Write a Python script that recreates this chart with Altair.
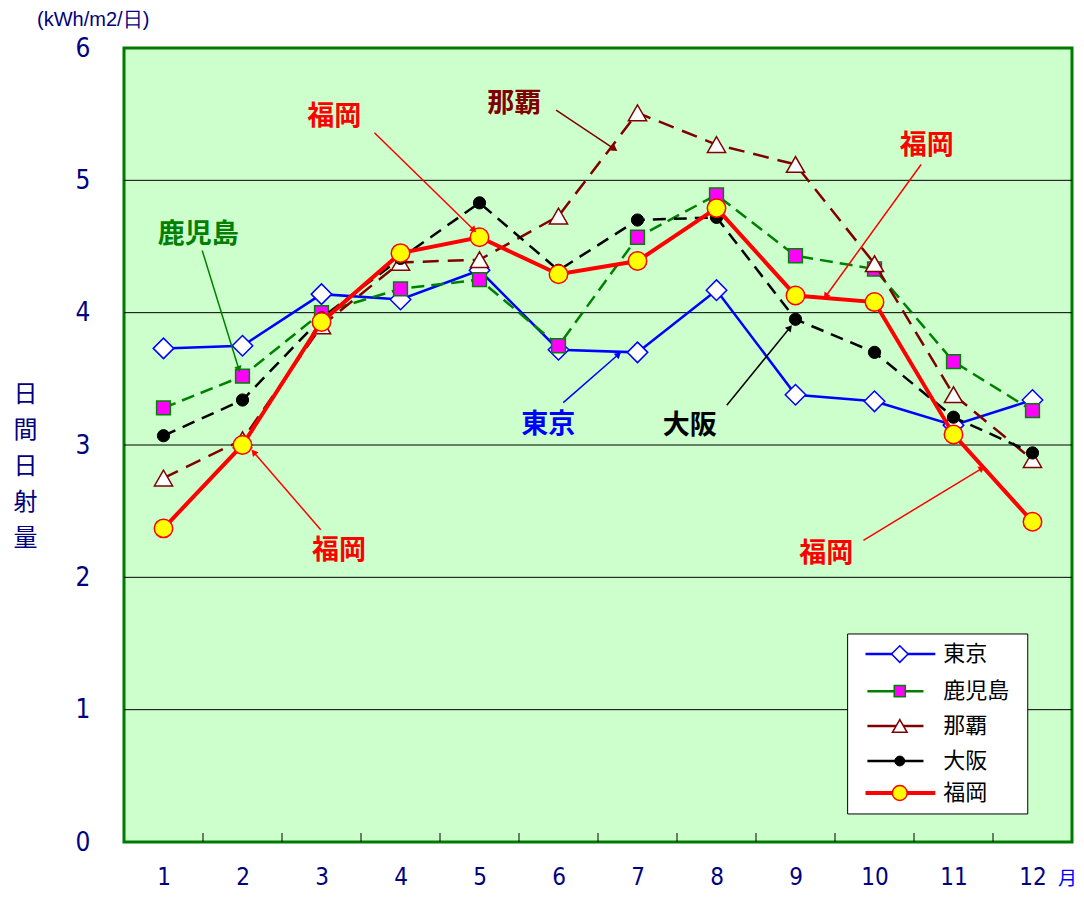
import math
import altair as alt
import pandas as pd

# ---------------- data ----------------
months = list(range(1, 13))
series_names = ["東京", "鹿児島", "那覇", "大阪", "福岡"]
tokyo = [3.73, 3.75, 4.14, 4.10, 4.32, 3.72, 3.70, 4.17, 3.38, 3.33, 3.15, 3.34]
kagoshima = [3.28, 3.52, 4.00, 4.18, 4.25, 3.75, 4.57, 4.89, 4.43, 4.33, 3.63, 3.26]
naha = [2.75, 3.04, 3.90, 4.38, 4.40, 4.73, 5.51, 5.27, 5.12, 4.37, 3.38, 2.89]
osaka = [3.07, 3.34, 3.96, 4.41, 4.83, 4.32, 4.70, 4.72, 3.95, 3.70, 3.21, 2.94]
fukuoka = [2.37, 3.00, 3.93, 4.45, 4.57, 4.29, 4.39, 4.79, 4.13, 4.08, 3.08, 2.42]
series_values = [tokyo, kagoshima, naha, osaka, fukuoka]

y_ticks = [0, 1, 2, 3, 4, 5, 6]
grid_values = [1, 2, 3, 4, 5]
unit_label = "(kWh/m2/日)"
y_title = ["日", "間", "日", "射", "量"]
x_title = "月"

# annotations (callout labels with arrows)
ann_text = ["福岡", "那覇", "鹿児島", "福岡", "東京", "大阪", "福岡", "福岡"]
ann_color = ["#FF0000", "#800000", "#008000", "#FF0000", "#0000FF", "#000000", "#FF0000", "#FF0000"]
ann_x = [3.16, 5.44, 1.44, 10.66, 5.87, 7.66, 3.22, 9.39]
ann_y = [5.48, 5.58, 4.59, 5.26, 3.15, 3.14, 2.20, 2.18]
arr_x1 = [3.67, 5.97, 1.49, 10.59, 6.06, 8.13, 2.99, 9.86]
arr_y1 = [5.36, 5.53, 4.47, 5.12, 3.32, 3.30, 2.36, 2.28]
arr_x2 = [4.92, 6.70, 1.95, 9.39, 6.75, 8.92, 2.15, 11.35]
arr_y2 = [4.63, 5.24, 3.58, 4.13, 3.68, 3.88, 2.94, 2.82]

# ---------------- layout / styles ----------------
W, H = 948, 794
KX = W / 12.0
KY = H / 6.0
NAVY = "#000080"
NUM_FONT = "Liberation Sans Narrow, DejaVu Sans Condensed, Liberation Sans, Arial"
JP_FONT = "Noto Sans CJK JP"

styles = {
    "東京": dict(color="#0000FF", dash=None, width=2.5, shape="diamond", fill="#FFFFFF", mstroke="#0000FF", size=420, sw=1.5),
    "鹿児島": dict(color="#008000", dash=[13, 7], width=2.5, shape="square", fill="#FF00FF", mstroke="#008000", size=190, sw=1.5),
    "那覇": dict(color="#800000", dash=[16, 9], width=2.5, shape="triangle-up", fill="#FFFFFF", mstroke="#800000", size=330, sw=1.5),
    "大阪": dict(color="#000000", dash=[13, 8], width=2.5, shape="circle", fill="#000000", mstroke="#000000", size=150, sw=1),
    "福岡": dict(color="#FF0000", dash=None, width=4, shape="circle", fill="#FFFF00", mstroke="#FF0000", size=340, sw=1.5),
}

xscale = alt.Scale(domain=[0.5, 12.5], nice=False, zero=False)
yscale = alt.Scale(domain=[0, 6], nice=False, zero=False)

x_axis = alt.Axis(
    values=months, ticks=False, domain=False, grid=False, tickSize=0,
    labelFont=NUM_FONT, labelFontSize=24, labelColor=NAVY, labelPadding=23,
    labelBaseline="top", labelFlush=False,
    title=x_title, titleFont=JP_FONT, titleFontSize=19, titleColor="#0000FF",
    titleFontWeight="normal", titleX=943, titleY=36, titleAlign="center",
    titleBaseline="middle")
y_axis = alt.Axis(
    values=y_ticks, ticks=False, domain=False, grid=False, tickSize=0,
    labelFont=NUM_FONT, labelFontSize=26, labelColor=NAVY, labelPadding=34,
    labelFlush=False,
    title=y_title, titleFont=JP_FONT, titleFontSize=24, titleColor=NAVY,
    titleFontWeight="normal", titleAngle=0, titleX=-99, titleY=346,
    titleAlign="center", titleBaseline="middle", titleLineHeight=36)


def X(field="x"):
    return alt.X(f"{field}:Q", scale=xscale, axis=x_axis)


def Y(field="y"):
    return alt.Y(f"{field}:Q", scale=yscale, axis=y_axis)


layers = []

grid_df = pd.DataFrame({"y": grid_values})
layers.append(alt.Chart(grid_df).mark_rule(color="#000000", strokeWidth=1).encode(
    y=Y(), x=alt.value(0), x2=alt.value(W)))

# inward ticks at category boundaries
tick_df = pd.DataFrame({"x": [m + 0.5 for m in months[:-1]], "y": 0.0, "y2": 0.068})
layers.append(alt.Chart(tick_df).mark_rule(color="#000000", strokeWidth=1).encode(
    x=X(), y=Y(), y2="y2:Q"))

# series
for name, vals in zip(series_names, series_values):
    st = styles[name]
    d = pd.DataFrame({"x": months, "y": vals})
    line_kw = dict(color=st["color"], strokeWidth=st["width"])
    if st["dash"]:
        line_kw["strokeDash"] = st["dash"]
    layers.append(alt.Chart(d).mark_line(**line_kw).encode(x=X(), y=Y()))
    layers.append(alt.Chart(d).mark_point(
        shape=st["shape"], filled=True, fill=st["fill"], stroke=st["mstroke"],
        strokeWidth=st["sw"], size=st["size"], opacity=1).encode(x=X(), y=Y()))

# annotations
arr_df = pd.DataFrame({"x": arr_x1, "y": arr_y1, "x2": arr_x2, "y2": arr_y2, "c": ann_color})
arr_df["ang"] = [
    (math.degrees(math.atan2((b - a) * KX, (d - c) * KY)) + 360) % 360
    for a, b, c, d in zip(arr_x1, arr_x2, arr_y1, arr_y2)
]
layers.append(alt.Chart(arr_df).mark_rule(strokeWidth=1.5).encode(
    x=X(), y=Y(), x2="x2:Q", y2="y2:Q", color=alt.Color("c:N", scale=None)))
layers.append(alt.Chart(arr_df).mark_point(shape="triangle", filled=True, size=55, opacity=1).encode(
    x=X("x2"), y=Y("y2"), color=alt.Color("c:N", scale=None), angle=alt.Angle("ang:Q", scale=None)))

ann_df = pd.DataFrame({"x": ann_x, "y": ann_y, "t": ann_text, "c": ann_color})
layers.append(alt.Chart(ann_df).mark_text(font=JP_FONT, fontSize=27, fontWeight="bold",
                                           align="center", baseline="middle").encode(
    x=X(), y=Y(), text="t:N", color=alt.Color("c:N", scale=None)))

# unit label
unit_df = pd.DataFrame({"x": [0.11], "y": [6.21], "t": [unit_label]})
layers.append(alt.Chart(unit_df).mark_text(font="Liberation Sans", fontSize=20, color=NAVY,
                                            align="center", baseline="middle").encode(
    x=X(), y=Y(), text="t:N"))

# legend (manual, placed in plot coordinates)
leg_box = pd.DataFrame({"x": [9.66], "x2": [11.94], "y": [1.572], "y2": [0.212]})
layers.append(alt.Chart(leg_box).mark_rect(fill="#FFFFFF", stroke="#000000", strokeWidth=1).encode(
    x=X(), x2="x2:Q", y=Y(), y2="y2:Q"))
leg_rows = [1.42, 1.14, 0.877, 0.612, 0.37]
for name, ly in zip(series_names, leg_rows):
    st = styles[name]
    lx1, lx2 = (9.886, 10.77) if st["dash"] is None else (9.91, 10.62)
    ld = pd.DataFrame({"x": [lx1], "x2": [lx2], "y": [ly]})
    layers.append(alt.Chart(ld).mark_rule(color=st["color"], strokeWidth=st["width"]).encode(
        x=X(), x2="x2:Q", y=Y()))
    pd_ = pd.DataFrame({"x": [10.32], "y": [ly]})
    layers.append(alt.Chart(pd_).mark_point(
        shape=st["shape"], filled=True, fill=st["fill"], stroke=st["mstroke"],
        strokeWidth=st["sw"], size=st["size"] * 0.65, opacity=1).encode(x=X(), y=Y()))
    td = pd.DataFrame({"x": [10.87], "y": [ly], "t": [name]})
    layers.append(alt.Chart(td).mark_text(font=JP_FONT, fontSize=22, color="#000000",
                                          align="left", baseline="middle").encode(
        x=X(), y=Y(), text="t:N"))

chart = alt.layer(*layers).properties(
    width=W, height=H,
    padding={"left": 116, "top": 40, "right": 4, "bottom": 50},
    autosize=alt.AutoSizeParams(type="none"),
).configure_view(fill="#CCFFCC", stroke="#007A00", strokeWidth=3)

chart.save("out.html", embed_options={"renderer": "svg", "actions": False})
